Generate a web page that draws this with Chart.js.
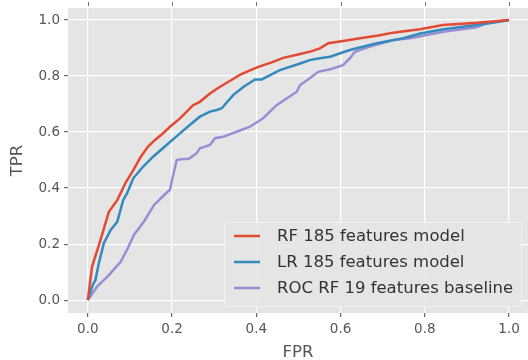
<!DOCTYPE html>
<html>
<head>
<meta charset="utf-8">
<script src="https://cdn.jsdelivr.net/npm/chart.js@4"></script>
<style>
  html, body { margin: 0; padding: 0; background: #fff; }
  #wrap { width: 528px; height: 360px; }
</style>
</head>
<body>
<div id="wrap"><canvas id="chart" width="528" height="360"></canvas></div>
<script>
// ROC curves
const seriesNames = ["RF 185 features model", "LR 185 features model", "ROC RF 19 features baseline"];
const seriesColors = ["#E24A33", "#348ABD", "#988ED5"];

const fprRf = [0, 0.010, 0.028, 0.050, 0.070, 0.090, 0.108, 0.125, 0.143, 0.159, 0.178, 0.195, 0.219, 0.250, 0.266, 0.290, 0.314, 0.340, 0.361, 0.385, 0.405, 0.435, 0.464, 0.504, 0.530, 0.551, 0.571, 0.610, 0.646, 0.690, 0.725, 0.760, 0.789, 0.843, 0.880, 0.923, 0.960, 1.0];
const tprRf = [0, 0.119, 0.204, 0.315, 0.357, 0.420, 0.464, 0.510, 0.548, 0.571, 0.595, 0.619, 0.649, 0.696, 0.708, 0.738, 0.762, 0.785, 0.804, 0.820, 0.833, 0.848, 0.865, 0.879, 0.888, 0.899, 0.917, 0.926, 0.935, 0.945, 0.955, 0.962, 0.967, 0.982, 0.986, 0.990, 0.995, 1.0];

const fprLr = [0, 0.012, 0.018, 0.026, 0.038, 0.054, 0.070, 0.084, 0.093, 0.108, 0.131, 0.155, 0.187, 0.214, 0.242, 0.266, 0.290, 0.306, 0.318, 0.345, 0.370, 0.397, 0.413, 0.456, 0.504, 0.527, 0.547, 0.575, 0.622, 0.686, 0.749, 0.789, 0.844, 0.923, 0.960, 1.0];
const tprLr = [0, 0.055, 0.071, 0.130, 0.203, 0.250, 0.280, 0.357, 0.381, 0.435, 0.476, 0.512, 0.554, 0.589, 0.625, 0.655, 0.673, 0.679, 0.685, 0.732, 0.762, 0.788, 0.788, 0.821, 0.845, 0.857, 0.863, 0.869, 0.893, 0.917, 0.935, 0.952, 0.967, 0.982, 0.990, 1.0];

const fprBase = [0, 0.022, 0.050, 0.078, 0.095, 0.109, 0.133, 0.157, 0.188, 0.195, 0.200, 0.211, 0.222, 0.240, 0.258, 0.266, 0.290, 0.302, 0.321, 0.353, 0.385, 0.416, 0.448, 0.472, 0.496, 0.504, 0.527, 0.547, 0.575, 0.606, 0.622, 0.634, 0.670, 0.725, 0.765, 0.844, 0.923, 0.947, 1.0];
const tprBase = [0, 0.048, 0.089, 0.137, 0.185, 0.232, 0.280, 0.339, 0.385, 0.393, 0.429, 0.500, 0.503, 0.505, 0.524, 0.542, 0.554, 0.578, 0.583, 0.601, 0.619, 0.649, 0.696, 0.720, 0.744, 0.768, 0.792, 0.815, 0.824, 0.839, 0.863, 0.887, 0.905, 0.929, 0.935, 0.958, 0.974, 0.988, 1.0];

const tickValues = [0, 0.2, 0.4, 0.6, 0.8, 1.0];

function toPoints(xs, ys) {
  return xs.map((x, i) => ({ x: x, y: ys[i] }));
}

const FONT = "'DejaVu Sans', sans-serif";

// grey panel behind the grid
const panelBg = {
  id: "panelBg",
  beforeDraw(chart) {
    const a = chart.chartArea;
    const ctx = chart.ctx;
    ctx.save();
    ctx.fillStyle = "#E5E5E5";
    ctx.fillRect(a.left, a.top, a.right - a.left, a.bottom - a.top);
    // small tick marks above the panel
    ctx.strokeStyle = "#777";
    ctx.lineWidth = 1;
    const xs = chart.scales.x;
    tickValues.forEach((v) => {
      const px = Math.round(xs.getPixelForValue(v)) + 0.5;
      ctx.beginPath();
      ctx.moveTo(px, 2);
      ctx.lineTo(px, 6);
      ctx.stroke();
    });
    ctx.restore();
  }
};

// matplotlib-like legend box inside the plot
const boxLegend = {
  id: "boxLegend",
  afterDatasetsDraw(chart) {
    const ctx = chart.ctx;
    const x0 = 224, y0 = 222, w = 297, h = 84;
    ctx.save();
    ctx.fillStyle = "rgba(229,229,229,0.92)";
    ctx.strokeStyle = "#f3f3f3";
    ctx.lineWidth = 1;
    ctx.beginPath();
    ctx.roundRect ? ctx.roundRect(x0 + 0.5, y0 + 0.5, w, h, 2) : ctx.rect(x0 + 0.5, y0 + 0.5, w, h);
    ctx.fill();
    ctx.stroke();
    ctx.font = "16.5px " + FONT;
    ctx.textBaseline = "middle";
    chart.data.datasets.forEach((ds, i) => {
      const yy = y0 + 14 + i * 26;
      ctx.strokeStyle = ds.borderColor;
      ctx.lineWidth = 2.5;
      ctx.beginPath();
      ctx.moveTo(x0 + 10, yy);
      ctx.lineTo(x0 + 36, yy);
      ctx.stroke();
      ctx.fillStyle = "#333";
      ctx.fillText(ds.label, x0 + 53, yy + 1);
    });
    ctx.restore();
  }
};

const datasets = [
  toPoints(fprRf, tprRf),
  toPoints(fprLr, tprLr),
  toPoints(fprBase, tprBase)
].map((pts, i) => ({
  label: seriesNames[i],
  data: pts,
  borderColor: seriesColors[i],
  backgroundColor: seriesColors[i],
  borderWidth: 2.5,
  showLine: true,
  pointRadius: 0,
  tension: 0,
  fill: false
}));

const chart = new Chart(document.getElementById("chart").getContext("2d"), {
  type: "scatter",
  data: { datasets },
  plugins: [panelBg, boxLegend],
  options: {
    responsive: false,
    animation: false,
    layout: { padding: { top: 8, right: 0, left: 0, bottom: 0 } },
    plugins: {
      legend: { display: false },
      tooltip: { enabled: false }
    },
    scales: {
      x: {
        type: "linear",
        min: -0.047,
        max: 1.045,
        afterBuildTicks(scale) { scale.ticks = tickValues.map((v) => ({ value: v })); },
        afterFit(scale) {
          scale.height = 47;
          scale.paddingLeft = 0;
          scale.paddingRight = 0;
        },
        border: { display: false },
        grid: { color: "#ffffff", lineWidth: 1.2, tickColor: "#666", tickLength: 4 },
        ticks: {
          color: "#555",
          font: { family: FONT, size: 13.5 },
          padding: 4,
          maxRotation: 0,
          callback: (v) => v.toFixed(1)
        },
        title: {
          display: true,
          text: "FPR",
          color: "#555",
          font: { family: FONT, size: 16.5 },
          padding: { top: 6, bottom: -3 }
        }
      },
      y: {
        type: "linear",
        min: -0.046,
        max: 1.043,
        afterBuildTicks(scale) { scale.ticks = tickValues.map((v) => ({ value: v })); },
        afterFit(scale) {
          scale.width = 68;
          scale.paddingTop = 0;
          scale.paddingBottom = 0;
        },
        border: { display: false },
        grid: { color: "#ffffff", lineWidth: 1.2, tickColor: "#666", tickLength: 4 },
        ticks: {
          color: "#555",
          font: { family: FONT, size: 13.5 },
          padding: 4,
          callback: (v) => v.toFixed(1)
        },
        title: {
          display: true,
          text: "TPR",
          color: "#555",
          font: { family: FONT, size: 16.5 },
          padding: { top: 8, bottom: 0 }
        }
      }
    }
  }
});
</script>
</body>
</html>
